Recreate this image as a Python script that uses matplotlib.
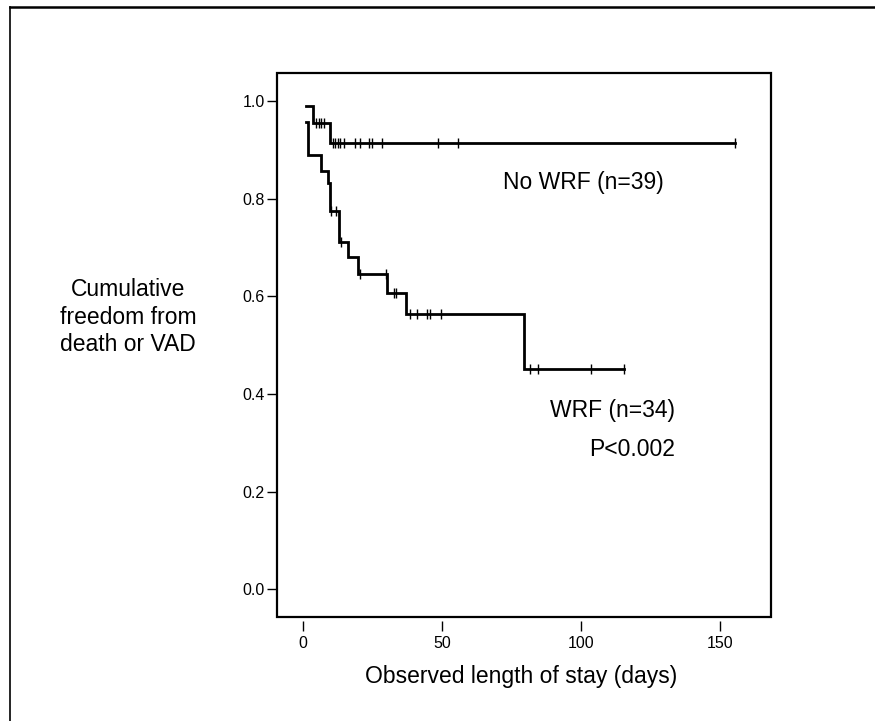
import numpy as np
import matplotlib
matplotlib.use("Agg")
import matplotlib.pyplot as plt
from matplotlib.lines import Line2D
from matplotlib.patches import Rectangle

plt.rcParams['font.family'] = ['Liberation Sans', 'DejaVu Sans']

# ---- data ----
# No WRF group: step times and survival after each step, censor times, end of follow-up
nowrf_times = [1.0, 3.6, 9.7]
nowrf_surv = [0.99, 0.955, 0.915]
nowrf_censor = [4.9, 5.9, 6.7, 7.6, 10.7, 11.6, 12.6, 13.5, 14.7,
                18.8, 20.7, 23.9, 24.8, 28.6, 48.6, 55.9, 155.6]
nowrf_end = 155.6

# WRF group
wrf_times = [1.0, 1.7, 6.7, 9.1, 9.7, 13.1, 16.1, 19.8, 30.4, 37.0, 79.6]
wrf_surv = [0.958, 0.889, 0.858, 0.832, 0.775, 0.711, 0.680, 0.646, 0.607, 0.5635, 0.4506]
wrf_censor = [10.2, 12.0, 13.9, 20.5, 29.9, 32.7, 33.7, 38.7, 41.2, 44.8,
              45.9, 49.6, 81.7, 84.7, 103.6, 115.7]
wrf_end = 115.7

x_ticks = [0, 50, 100, 150]
y_ticks = [0.0, 0.2, 0.4, 0.6, 0.8, 1.0]
y_ticklabels = ["0.0", "0.2", "0.4", "0.6", "0.8", "1.0"]

label_nowrf = "No WRF (n=39)"
label_wrf = "WRF (n=34)"
label_p = "P<0.002"
xlabel = "Observed length of stay (days)"
ylabel = "Cumulative\nfreedom from\ndeath or VAD"

# ---- figure ----
fig = plt.figure(figsize=(8.75, 7.21), dpi=100)
ax = fig.add_axes([277/875, 1-617/721, (771-277)/875, (617-73)/721])


def draw_km(times, surv, censor, end):
    t = np.array(list(times) + [end])
    s = np.array(list(surv) + [surv[-1]])
    ax.step(t, s, where='post', color='black', lw=2.0, solid_joinstyle='miter',
            zorder=3)
    c = np.array(censor)
    idx = np.searchsorted(np.array(times), c, side='right') - 1
    cy = np.array(surv)[idx]
    ax.plot(c, cy, linestyle='none', marker='|', markersize=7.5,
            markeredgewidth=1.0, color='black', zorder=4)


draw_km(nowrf_times, nowrf_surv, nowrf_censor, nowrf_end)
draw_km(wrf_times, wrf_surv, wrf_censor, wrf_end)

ax.set_xlim(-9.3, 168.5)
ax.set_ylim(-0.057, 1.058)
ax.set_xticks(x_ticks)
ax.set_xticklabels([str(v) for v in x_ticks])
ax.set_yticks(y_ticks)
ax.set_yticklabels(y_ticklabels)

for sp in ax.spines.values():
    sp.set_visible(False)
ax.spines['bottom'].set_position(('outward', 3))
ax.add_patch(Rectangle((0, 0), 1, 1, transform=ax.transAxes, fill=False,
                       lw=1.6, edgecolor='black', clip_on=False, zorder=5))

ax.tick_params(axis='x', direction='out', length=7.5, width=1.0, pad=3,
               labelsize=11.5, colors='black')
ax.tick_params(axis='y', direction='out', length=7, width=1.0, pad=2,
               labelsize=11.5, colors='black')

ax.text(71.9, 0.833, label_nowrf, fontsize=16.5, ha='left', va='center')
ax.text(88.8, 0.367, label_wrf, fontsize=16.5, ha='left', va='center')
ax.text(103.1, 0.287, label_p, fontsize=16.5, ha='left', va='center')

fig.text(521/875, 1-676/721, xlabel, fontsize=16.5, ha='center', va='center')
fig.text(128/875, 1-317/721, ylabel, fontsize=16.5, ha='center', va='center',
         linespacing=1.25, multialignment='center')

# outer frame lines (top and left)
fig.add_artist(Line2D([10/875, 1.0], [1-6.5/721, 1-6.5/721], transform=fig.transFigure,
                      color='black', lw=1.8))
fig.add_artist(Line2D([10/875, 10/875], [0.0, 1-6.5/721], transform=fig.transFigure,
                      color='black', lw=1.2))

fig.savefig("out.png", dpi=100)
